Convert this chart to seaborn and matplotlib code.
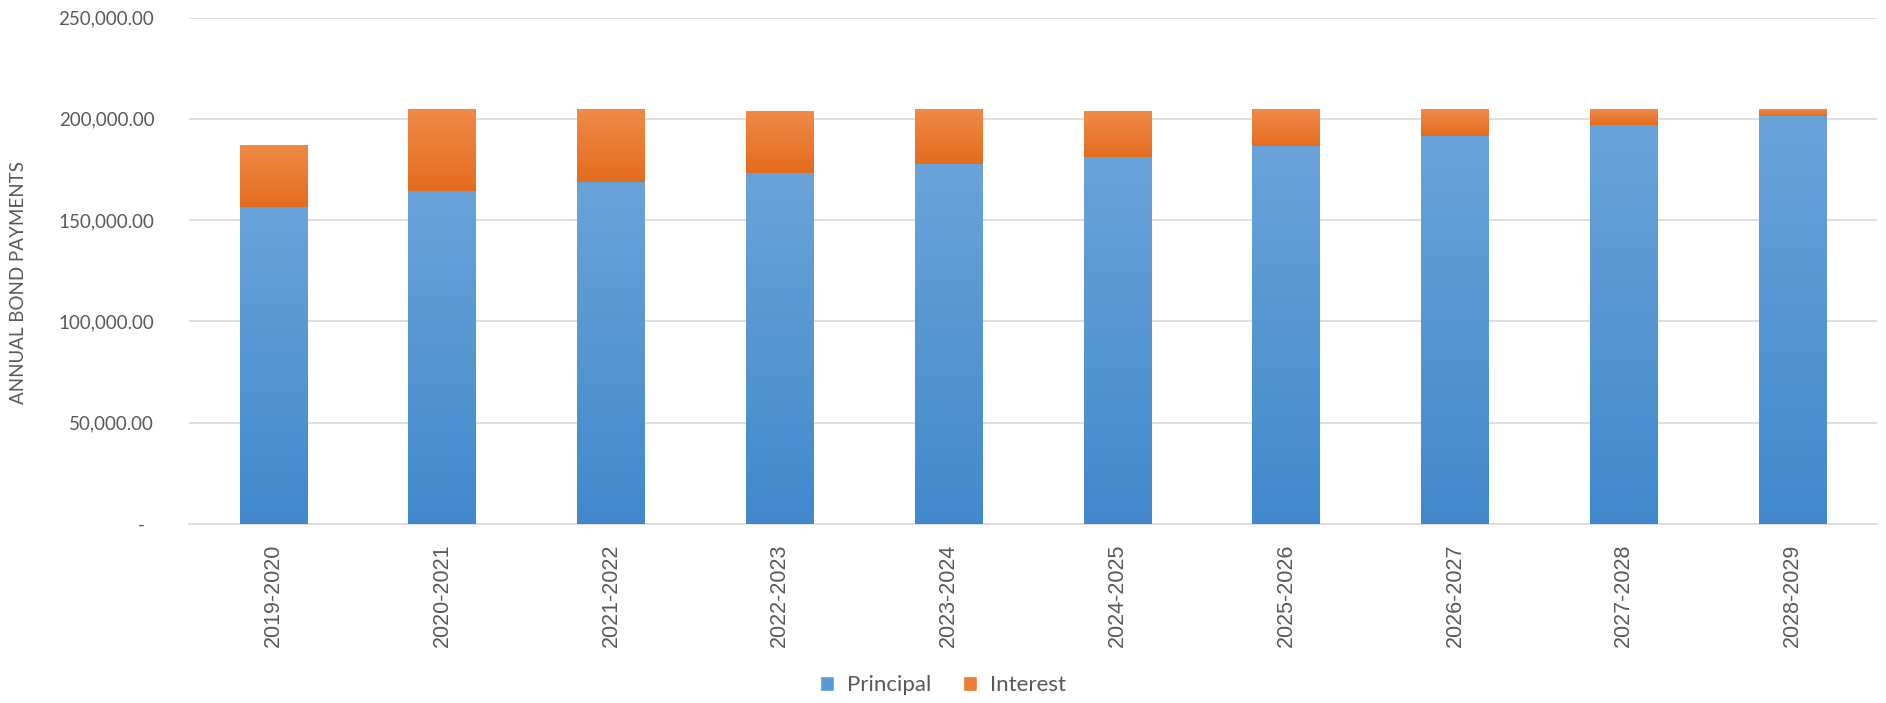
import matplotlib
matplotlib.use("Agg")
import matplotlib.pyplot as plt
import seaborn as sns
import pandas as pd
import numpy as np
from matplotlib.ticker import FuncFormatter
from matplotlib.patches import Patch
from matplotlib.colors import LinearSegmentedColormap

periods = ["2019-2020", "2020-2021", "2021-2022", "2022-2023", "2023-2024",
           "2024-2025", "2025-2026", "2026-2027", "2027-2028", "2028-2029"]
principal = [156600, 164500, 169000, 173100, 177500, 181300, 186800, 191400, 197000, 201500]
interest = [30300, 40200, 35700, 30800, 27200, 22600, 17900, 13300, 7700, 3200]

df = pd.DataFrame({"Period": periods, "Principal": principal, "Interest": interest})
df["Total"] = df["Principal"] + df["Interest"]

sns.set_theme(style="white")
plt.rcParams["font.family"] = ["Lato", "DejaVu Sans"]

BLUE = "#5B9BD5"
ORANGE = "#ED7D31"
GRAY = "#595959"
blue_cmap = LinearSegmentedColormap.from_list("b", ["#4189CC", "#6AA3DA"])
orange_cmap = LinearSegmentedColormap.from_list("o", ["#E46C1E", "#F08A48"])

fig = plt.figure(figsize=(18.86, 7.03), dpi=100)
ax = fig.add_axes([0.1002, 0.2546, 0.8950, 0.7205])

sns.barplot(data=df, x="Period", y="Total", color=ORANGE, width=0.4,
            saturation=1, ax=ax, linewidth=0, zorder=3)
sns.barplot(data=df, x="Period", y="Principal", color=BLUE, width=0.4,
            saturation=1, ax=ax, linewidth=0, zorder=3)

ax.set_ylim(0, 250000)
ax.set_xlim(-0.5, len(periods) - 0.5)

# gradient fill over the seaborn bars
grad = np.linspace(0, 1, 256).reshape(-1, 1)
for i, p in enumerate(ax.containers[0].patches):
    x0 = p.get_x(); w = p.get_width()
    im = ax.imshow(grad, cmap=orange_cmap, origin="lower", aspect="auto",
                   extent=(x0, x0 + w, df["Principal"][i], df["Total"][i]),
                   zorder=3.1)
    im.set_clip_path(p)
for i, p in enumerate(ax.containers[1].patches):
    x0 = p.get_x(); w = p.get_width()
    im = ax.imshow(grad, cmap=blue_cmap, origin="lower", aspect="auto",
                   extent=(x0, x0 + w, 0, df["Principal"][i]), zorder=3.2)
    im.set_clip_path(p)

ax.set_ylim(0, 250000)
ax.set_xlim(-0.5, len(periods) - 0.5)
ax.set_yticks(range(0, 250001, 50000))
ax.yaxis.set_major_formatter(FuncFormatter(
    lambda v, p: "-\u2002" if v == 0 else f"{v:,.2f}"))
ax.grid(axis="y", color="#D9D9D9", linewidth=1.2, zorder=0)
ax.set_axisbelow(True)
for s in ["top", "right", "left"]:
    ax.spines[s].set_visible(False)
ax.spines["bottom"].set_color("#D9D9D9")
ax.spines["bottom"].set_linewidth(1.2)
ax.tick_params(axis="both", length=0)
ax.tick_params(axis="y", labelsize=13.5, labelcolor=GRAY, pad=25)
ax.tick_params(axis="x", labelsize=15.5, labelcolor=GRAY, pad=14)
for lab in ax.get_xticklabels():
    lab.set_rotation(90)
    lab.set_fontfamily(["Liberation Sans", "DejaVu Sans"])
ax.set_xlabel("")
ax.set_ylabel("ANNUAL BOND PAYMENTS", fontsize=13.5, color=GRAY)
ax.yaxis.set_label_coords((27 - 189) / 1688, 0.476)

leg_handles = [Patch(facecolor=BLUE), Patch(facecolor=ORANGE)]
leg = fig.legend(leg_handles, ["Principal", "Interest"], loc="center",
                 bbox_to_anchor=(0.5, 1 - 685 / 703), ncol=2, frameon=False,
                 fontsize=16, handlelength=0.65, handleheight=0.65,
                 columnspacing=1.4, handletextpad=0.6)
for t in leg.get_texts():
    t.set_color(GRAY)

fig.savefig("out.png", dpi=100)
